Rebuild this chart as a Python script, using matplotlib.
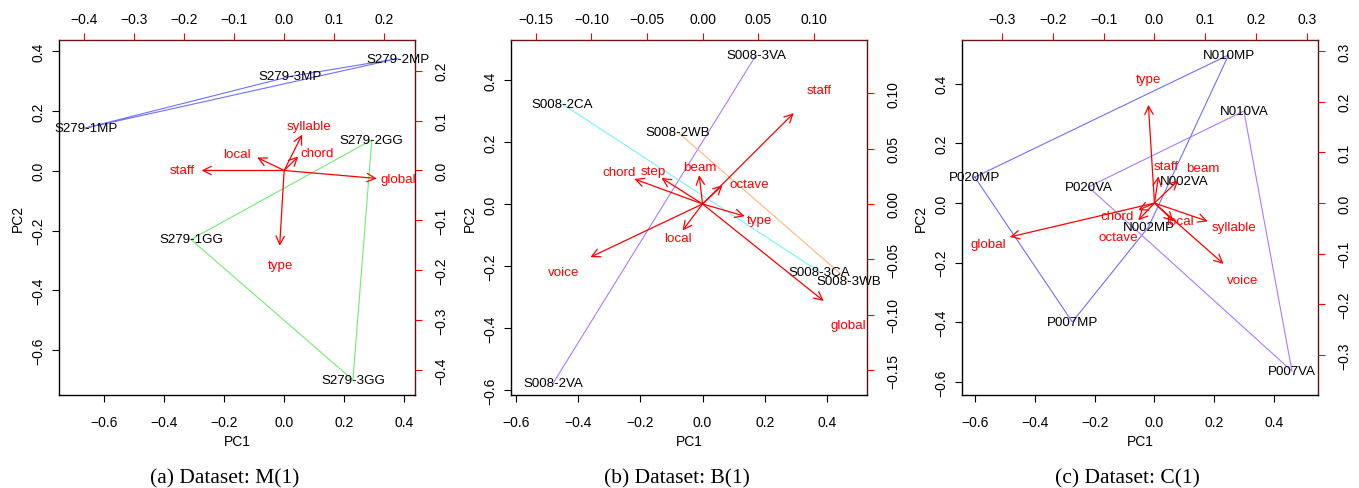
import matplotlib.pyplot as plt

plt.rcParams['font.family'] = ['Liberation Sans', 'DejaVu Sans']

# ---- panel (a) M(1) ----
a_samples = ['S279-1MP', 'S279-2MP', 'S279-3MP', 'S279-1GG', 'S279-2GG', 'S279-3GG']
a_pc1 = [-0.66, 0.38, 0.02, -0.31, 0.293, 0.23]
a_pc2 = [0.143, 0.375, 0.315, -0.23, 0.103, -0.70]
a_groups = [['S279-1MP', 'S279-2MP', 'S279-3MP'], ['S279-1GG', 'S279-2GG', 'S279-3GG']]
a_vars = ['staff', 'global', 'local', 'syllable', 'chord', 'type']
a_load1 = [-0.165, 0.185, -0.054, 0.036, 0.028, -0.009]
a_load2 = [0.0, -0.016, 0.026, 0.072, 0.028, -0.151]
a_lab1 = [-0.203, 0.229, -0.094, 0.050, 0.066, -0.008]
a_lab2 = [0.0, -0.018, 0.034, 0.090, 0.036, -0.189]

# ---- panel (b) B(1) ----
b_samples = ['S008-2VA', 'S008-3VA', 'S008-2CA', 'S008-3CA', 'S008-2WB', 'S008-3WB']
b_pc1 = [-0.48, 0.172, -0.45, 0.375, -0.08, 0.47]
b_pc2 = [-0.577, 0.48, 0.322, -0.218, 0.232, -0.248]
b_groups = [['S008-2VA', 'S008-3VA'], ['S008-2CA', 'S008-3CA'], ['S008-2WB', 'S008-3WB']]
b_vars = ['chord', 'step', 'beam', 'octave', 'type', 'local', 'staff', 'voice', 'global']
b_load1 = [-0.0614, -0.037, -0.003, 0.018, 0.038, -0.018, 0.082, -0.101, 0.109]
b_load2 = [0.0226, 0.0235, 0.026, 0.017, -0.011, -0.024, 0.082, -0.048, -0.0875]
b_lab1 = [-0.075, -0.044, -0.002, 0.042, 0.051, -0.022, 0.105, -0.125, 0.131]
b_lab2 = [0.029, 0.030, 0.033, 0.018, -0.0145, -0.031, 0.103, -0.061, -0.109]

# ---- panel (c) C(1) ----
c_samples = ['N010MP', 'N010VA', 'P020MP', 'P020VA', 'N002VA', 'N002MP', 'P007MP', 'P007VA']
c_pc1 = [0.248, 0.299, -0.601, -0.221, 0.10, -0.02, -0.275, 0.46]
c_pc2 = [0.497, 0.309, 0.087, 0.054, 0.073, -0.08, -0.399, -0.564]
c_groups = [['P020MP', 'N010MP', 'N002MP', 'P007MP'], ['P020VA', 'N010VA', 'P007VA']]
c_vars = ['type', 'staff', 'beam', 'chord', 'octave', 'local', 'syllable', 'voice', 'global']
c_load1 = [-0.012, 0.008, 0.047, -0.032, -0.032, 0.038, 0.105, 0.136, -0.285]
c_load2 = [0.194, 0.053, 0.045, -0.014, -0.034, -0.036, -0.036, -0.12, -0.067]
c_lab1 = [-0.012, 0.023, 0.095, -0.073, -0.071, 0.051, 0.156, 0.174, -0.328]
c_lab2 = [0.245, 0.073, 0.069, -0.026, -0.067, -0.036, -0.047, -0.152, -0.081]

fig = plt.figure(figsize=(13.59, 4.89), dpi=100)


def fmt_ticks(ticks, nd):
    return [('%.*f' % (nd, t)).replace('-', '\u2212') for t in ticks]


def biplot(rect, lim, lim2, ticks, ticks2, samples, pc1, pc2, groups, colors,
           vars_, l1, l2, lab1, lab2, caption):
    ax = fig.add_axes(rect)
    ax.set_xlim(lim)
    ax.set_ylim(lim)
    pos = {s: (x, y) for s, x, y in zip(samples, pc1, pc2)}
    for g, col in zip(groups, colors):
        xs = [pos[s][0] for s in g]
        ys = [pos[s][1] for s in g]
        if len(g) > 2:
            xs.append(xs[0])
            ys.append(ys[0])
        ax.plot(xs, ys, color=col, lw=0.8)
    for s in samples:
        ax.text(pos[s][0], pos[s][1], s, ha='center', va='center', fontsize=9.6)
    ax.set_xticks(ticks)
    ax.set_yticks(ticks)
    ax.set_xticklabels(fmt_ticks(ticks, 1))
    ax.set_yticklabels(fmt_ticks(ticks, 1), rotation=90, va='center')
    ax.tick_params(labelsize=10, length=5, width=0.8)
    ax.tick_params(axis='x', pad=9.5)
    ax.tick_params(axis='y', pad=4.5)
    ax.set_xlabel('PC1', fontsize=10, labelpad=3.5)
    ax.set_ylabel('PC2', fontsize=10, labelpad=5)
    for sp in ax.spines.values():
        sp.set_linewidth(1.0)

    ax2 = fig.add_axes(rect, frameon=False)
    ax2.set_xlim(lim2)
    ax2.set_ylim(lim2)
    ax2.xaxis.tick_top()
    ax2.yaxis.tick_right()
    ax2.set_xticks(ticks2)
    ax2.set_yticks(ticks2)
    nd = 2 if ticks2[1] - ticks2[0] < 0.1 - 1e-9 else 1
    ax2.set_xticklabels(fmt_ticks(ticks2, nd))
    ax2.set_yticklabels(fmt_ticks(ticks2, nd), rotation=90, va='center')
    ax2.tick_params(labelsize=10, length=5, width=0.8, color='red')
    ax2.tick_params(axis='x', pad=5)
    ax2.tick_params(axis='y', pad=9)
    ax.spines['top'].set_color('#6a1818')
    ax.spines['right'].set_color('#5a1414')
    for v, x, y, tx, ty in zip(vars_, l1, l2, lab1, lab2):
        ax2.annotate('', xy=(x, y), xytext=(0, 0),
                     arrowprops=dict(arrowstyle='->,head_length=0.5,head_width=0.25',
                                     color='red', lw=0.9, shrinkA=0, shrinkB=0,
                                     mutation_scale=12))
        ax2.text(tx, ty, v, color='red', ha='center', va='center', fontsize=9.6)
    cx = rect[0] + rect[2] / 2 - 0.009
    fig.text(cx, 0.021, caption, ha='center', va='center', fontsize=15.5,
             family=['Liberation Serif', 'DejaVu Serif'])


W = 356 / 1359
H = 355 / 489
B = 93 / 489

biplot([59 / 1359, B, W, H], (-0.75, 0.437), (-0.45, 0.2615),
       [-0.6, -0.4, -0.2, 0.0, 0.2, 0.4], [-0.4, -0.3, -0.2, -0.1, 0.0, 0.1, 0.2],
       a_samples, a_pc1, a_pc2, a_groups, ['#7070ff', '#70ee70'],
       a_vars, a_load1, a_load2, a_lab1, a_lab2, '(a) Dataset: M(1)')

biplot([511 / 1359, B, W, H], (-0.616, 0.529), (-0.1724, 0.148),
       [-0.6, -0.4, -0.2, 0.0, 0.2, 0.4], [-0.15, -0.10, -0.05, 0.0, 0.05, 0.10],
       b_samples, b_pc1, b_pc2, b_groups, ['#b07aff', '#70f4ff', '#ffb878'],
       b_vars, b_load1, b_load2, b_lab1, b_lab2, '(b) Dataset: B(1)')

biplot([962 / 1359, B, W, H], (-0.644, 0.547), (-0.379, 0.322),
       [-0.6, -0.4, -0.2, 0.0, 0.2, 0.4], [-0.3, -0.2, -0.1, 0.0, 0.1, 0.2, 0.3],
       c_samples, c_pc1, c_pc2, c_groups, ['#7070ff', '#b07aff'],
       c_vars, c_load1, c_load2, c_lab1, c_lab2, '(c) Dataset: C(1)')

fig.savefig('out.png', dpi=100)
